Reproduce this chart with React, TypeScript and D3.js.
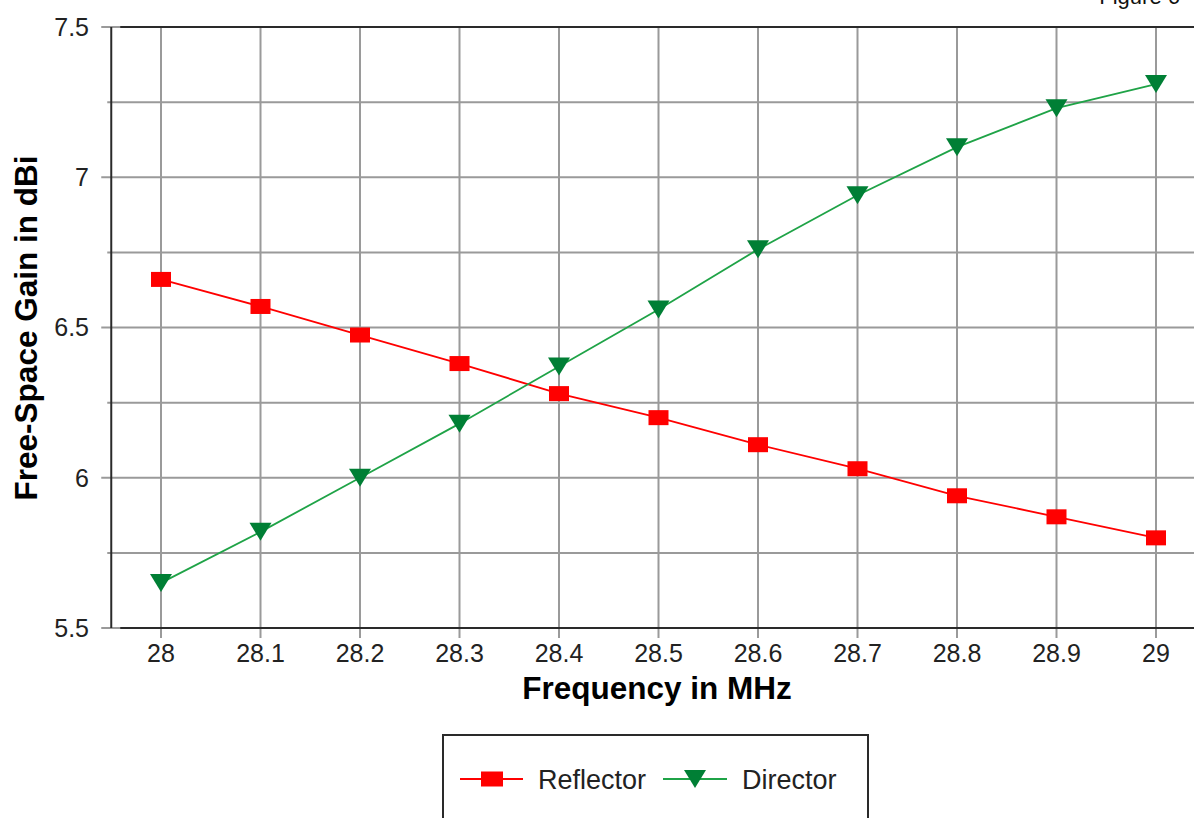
import React from "react";
import * as d3 from "d3";

const freqs = [28, 28.1, 28.2, 28.3, 28.4, 28.5, 28.6, 28.7, 28.8, 28.9, 29];
const reflector = [6.66, 6.57, 6.475, 6.38, 6.28, 6.2, 6.11, 6.03, 5.94, 5.87, 5.8];
const director = [5.65, 5.82, 6.0, 6.18, 6.37, 6.56, 6.76, 6.94, 7.1, 7.23, 7.31];
const xTickLabels = ["28", "28.1", "28.2", "28.3", "28.4", "28.5", "28.6", "28.7", "28.8", "28.9", "29"];
const yMajor = [5.5, 6, 6.5, 7, 7.5];
const yGrid = [5.5, 5.75, 6, 6.25, 6.5, 6.75, 7, 7.25, 7.5];

const W = 1194;
const H = 818;
const RED = "#ff0000";
const GREEN_LINE = "#1fa347";
const GREEN_MARK = "#007f35";
const GRID = "#9a9a9a";
const AXIS = "#2a2a2a";

const App = () => {
  const x = d3.scaleLinear().domain([27.95, 29.05]).range([111.25, 1205.75]);
  const y = d3.scaleLinear().domain([5.5, 7.5]).range([628, 27]);

  const line = d3
    .line<number>()
    .x((d, i) => x(freqs[i]))
    .y((d) => y(d));

  const left = x.range()[0];
  const tri = (cx: number, cy: number) =>
    `M${cx - 11},${cy - 9}L${cx + 11},${cy - 9}L${cx},${cy + 9}Z`;

  return (
    <svg
      width={W}
      height={H}
      style={{ position: "absolute", left: 0, top: 0, background: "#fff" }}
      fontFamily="Arial, 'Liberation Sans', sans-serif"
    >
      <rect width={W} height={H} fill="#fff" />

      {/* caption top right, mostly outside the picture like the original */}
      <text x={1180} y={4} textAnchor="end" fontSize={22} fill="#111">
        Figure 6
      </text>

      {/* horizontal grid + y ticks */}
      {yGrid.map((v) => (
        <line
          key={"hg" + v}
          x1={yMajor.includes(v) ? left - 10 : left - 4}
          x2={W}
          y1={y(v)}
          y2={y(v)}
          stroke={GRID}
          strokeWidth={2}
        />
      ))}
      {/* vertical grid + x ticks */}
      {freqs.map((f) => (
        <line
          key={"vg" + f}
          x1={x(f)}
          x2={x(f)}
          y1={y(7.5)}
          y2={y(5.5) + 10}
          stroke={GRID}
          strokeWidth={2}
        />
      ))}

      {/* axes */}
      <line x1={left} x2={left} y1={y(7.5)} y2={y(5.5)} stroke={AXIS} strokeWidth={2} />
      <line x1={left + 9} x2={W} y1={y(5.5)} y2={y(5.5)} stroke={AXIS} strokeWidth={2} />
      <line x1={left + 9} x2={W} y1={y(7.5)} y2={y(7.5)} stroke={AXIS} strokeWidth={2} />

      {/* y tick labels */}
      {yMajor.map((v) => (
        <text
          key={"yl" + v}
          x={89}
          y={y(v)}
          dy="0.35em"
          textAnchor="end"
          fontSize={25}
          fill="#222"
        >
          {v}
        </text>
      ))}
      {/* x tick labels */}
      {freqs.map((f, i) => (
        <text
          key={"xl" + f}
          x={x(f)}
          y={662}
          textAnchor="middle"
          fontSize={25}
          fill="#222"
        >
          {xTickLabels[i]}
        </text>
      ))}

      {/* axis titles */}
      <text x={657} y={699} textAnchor="middle" fontSize={31.5} fontWeight="bold" fill="#000">
        Frequency in MHz
      </text>
      <text
        transform={`translate(37,${328}) rotate(-90)`}
        textAnchor="middle"
        fontSize={31.5}
        fontWeight="bold"
        fill="#000"
      >
        Free-Space Gain in dBi
      </text>

      {/* series */}
      <path d={line(reflector) || ""} fill="none" stroke={RED} strokeWidth={1.8} />
      <path d={line(director) || ""} fill="none" stroke={GREEN_LINE} strokeWidth={1.8} />
      {reflector.map((v, i) => (
        <rect
          key={"r" + i}
          x={x(freqs[i]) - 10}
          y={y(v) - 7.5}
          width={20}
          height={15}
          fill={RED}
        />
      ))}
      {director.map((v, i) => (
        <path key={"d" + i} d={tri(x(freqs[i]), y(v))} fill={GREEN_MARK} />
      ))}

      {/* legend */}
      <rect x={443} y={735} width={425} height={100} fill="#fff" stroke={AXIS} strokeWidth={2} />
      <line x1={460} x2={523} y1={779} y2={779} stroke={RED} strokeWidth={1.8} />
      <rect x={481} y={771.5} width={22} height={15} fill={RED} />
      <text x={538} y={789} fontSize={27} fill="#222">
        Reflector
      </text>
      <line x1={663} x2={727} y1={779} y2={779} stroke={GREEN_LINE} strokeWidth={1.8} />
      <path d={tri(695, 779)} fill={GREEN_MARK} />
      <text x={742} y={789} fontSize={27} fill="#222">
        Director
      </text>
    </svg>
  );
};

export default App;
